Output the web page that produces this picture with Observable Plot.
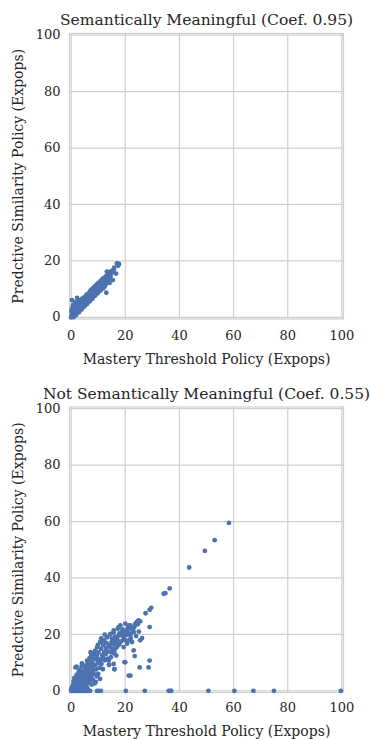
<!DOCTYPE html>
<html>
<head>
<meta charset="utf-8">
<script src="https://cdn.jsdelivr.net/npm/d3@7"></script>
<script src="https://cdn.jsdelivr.net/npm/@observablehq/plot@0.6"></script>
<style>
  html, body { margin: 0; padding: 0; background: #fff; }
  #wrap { position: relative; width: 370px; height: 739px; }
  #wrap > svg { position: absolute; left: 0; }
</style>
</head>
<body>
<div id="wrap"></div>
<script>
// ---------- data ----------
const tickValues = [0, 20, 40, 60, 80, 100];
const titles = ["Semantically Meaningful (Coef. 0.95)", "Not Semantically Meaningful (Coef. 0.55)"];
const xLabel = "Mastery Threshold Policy (Expops)";
const yLabel = "Predctive Similarity Policy (Expops)";

// [mastery threshold, predictive similarity]
const semantic = [
  [0,0],[0.2,0.5],[0.3,1.2],[0.5,0.3],[0.6,1.8],[0.8,0.9],[1,0.4],[1,1.5],[1.1,2.4],[1.3,1],
  [1.5,2],[1.6,0.8],[1.8,2.9],[2,1.6],[2,2.4],[2.2,3.3],[2.4,1.9],[2.5,2.8],[2.7,3.6],[2.9,2.4],
  [3,3.1],[3.1,4.2],[3.3,2.8],[3.5,3.7],[3.6,4.6],[3.8,3.2],[4,4.1],[4,5.1],[4.2,3.6],[4.4,4.7],
  [4.6,5.5],[4.7,4],[4.9,5],[5,6.2],[5.2,4.5],[5.3,5.6],[5.5,6.5],[5.6,5],[5.8,6],[6,7],
  [6.1,5.4],[6.3,6.6],[6.5,7.5],[6.6,5.9],[6.8,7],[7,8],[7.1,6.4],[7.3,7.5],[7.5,8.5],[7.6,6.9],
  [7.8,8],[8,9],[8.1,7.3],[8.3,8.5],[8.5,9.5],[8.7,7.9],[8.9,9],[9,10],[9.2,8.4],[9.4,9.6],
  [9.6,10.5],[9.8,9],[10,10.2],[10.2,11],[10.4,9.4],[10.6,10.7],[10.8,11.5],[11,10],[11.2,11.3],[11.4,12],
  [11.6,10.6],[11.8,11.8],[12,12.6],[12.2,11.2],[12.4,12.3],[12.6,13.1],[12.8,11.8],[13,12.9],[13.2,13.6],[13.4,12.4],
  [13.6,13.4],[13.8,14.1],[14,13],[14.3,14],[14.6,14.6],[14.8,16.3],[15.4,16.6],[13.2,16.2],[16.6,15.5],[15.4,13.2],
  [13,8.7],[16.9,19.1],[17.7,18.9],[17.4,18.3],[0.3,6.1],[2.2,6.9],[1.4,5.5],[0.7,4.3],[0.4,3.2],[1.2,3.8],
  [2.8,5.6],[3.4,6.1],[4.1,6.6],[4.8,7.1],[5.6,7.9],[6.2,8.3],[6.9,9.1],[7.4,9.8],[8.2,10.4],[8.8,11],
  [9.5,11.7],[10.1,12.2],[10.9,12.9],[11.5,13.5],[12.1,14],[12.9,14.6],[13.5,15.1],[14.1,15.6],[15,15.8],[15.8,16.9],
  [0.9,0.1],[1.9,0.9],[2.9,1.8],[3.9,2.8],[4.9,3.8],[5.9,4.7],[6.9,5.7],[7.9,6.6],[8.9,7.7],[9.9,8.6],
  [10.9,9.5],[11.9,10.3],[12.5,11.1],[14.2,12.2],[0.1,2.2],[0.5,2.6],[1.6,3.4],[2.3,4.6],[3.2,5.4],[4.5,5.9],
  [5.1,6.8],[6.4,7.1],[7.2,8.9],[8.4,9.9],[9.1,9.2],[10.5,11.4],[11.3,12.4],[12.7,13.9],[13.9,14.9],[15.9,17.6]
];

const nonSemantic = [
  // on the zero line
  [0,0],[0.3,0],[0.6,0],[1,0],[1.3,0],[1.7,0],[2,0],[2.4,0],[2.8,0],[3.2,0],[3.6,0],[4,0],[4.5,0],[5,0],
  [5.5,0],[6,0],[6.5,0],[7,0],[9.6,0],[10.2,0],[11,0],[20.2,0],[27.2,0],[36,0],[36.6,0],[37,0],
  [50.7,0],[60.3,0],[67.3,0],[74.9,0],[99.6,0],
  // main cloud
  [0,0.5],[0.3,1],[0.5,0.2],[0.6,1.8],[0.8,0.8],[1,2.5],[1.1,1.3],[1.3,0.4],[1.4,3.1],[1.5,1.9],
  [1.7,0.9],[1.8,2.7],[2,3.8],[2,1.4],[2.2,0.5],[2.3,2.2],[2.5,4.4],[2.6,3.1],[2.7,1.2],[2.9,2.1],
  [3,5.3],[3.1,3.7],[3.2,0.8],[3.3,2.6],[3.5,4.5],[3.6,1.6],[3.7,6.2],[3.8,3.3],[4,5.1],[4,2.1],
  [4.2,0.9],[4.3,4],[4.4,6.8],[4.6,2.9],[4.7,5.6],[4.8,1.4],[5,4.4],[5,7.4],[5.2,3.3],[5.3,6.1],
  [5.4,2],[5.6,5.1],[5.7,8.1],[5.8,3.8],[6,6.6],[6,1],[6.2,4.6],[6.3,7.6],[6.4,2.7],[6.6,5.5],
  [6.7,9.2],[6.9,3.6],[7,7],[7.1,10.8],[7.3,5],[7.4,8.4],[7.5,12.6],[7.6,2.2],[7.8,6.3],[7.9,9.8],
  [8,4],[8.2,11.5],[8.3,7.4],[8.4,13.1],[8.6,5.8],[8.8,9],[9,11.2],[9.1,3.2],[9.3,7.6],[9.5,12.4],
  [9.6,15.5],[9.8,9.8],[10,6],[10.1,13.6],[10.3,11],[10.5,8.2],[10.8,17.3],[10.9,11],[11,14.9],[11.2,9.5],
  [11.7,7.7],[11.5,12.6],[11.8,16.2],[12,17.9],[12.2,13.8],[12.5,10.8],[12.8,15.2],[13,17],[13.3,19],[13.5,11.3],
  [13.7,14],[13.9,10.7],[14,9.2],[14.2,16.4],[14.5,20.2],[14.8,13.6],[15,17.5],[15.3,15],[15.7,21.4],[15.7,9.5],
  [15.9,13.4],[16,7.7],[16.3,19.2],[16.6,16.2],[17,18.3],[17.6,22.6],[17.9,20.4],[18.5,17.5],[19,21.8],[19.5,18.4],
  [20,23.8],[20,10.1],[20.4,19.8],[21,22.2],[21.3,23.2],[21.6,20.2],[22,18.6],[22.8,21.5],[23.4,22.6],[24,19.4],
  [24.6,23.6],[25,21],[25.5,24.6],
  [18.2,23.2],[17.2,22],[15.7,20.8],[14.5,20],[15.1,18.5],[16.3,17.9],[17.6,19.6],[18.8,20.8],[19.4,19],[20,17.9],
  [20.7,21.4],[21.3,22.6],[21.9,23.2],[22.5,22],[23.1,20.8],[23.7,23.8],[24.3,24.4],[24.9,25],[21.9,19.6],[21.3,17.9],
  [20.7,16.7],[19.4,15.5],[22.5,17.3],[16.9,15.5],[15.7,16.7],[14.5,15.5],[26.2,18.7],[25.5,17.9],[23.1,14.3],[23.5,12.3],
  [16.7,12.5],[16,7.6],[19.7,10.2],[29,22.6],[29,10.7],[28.6,8.3],[25.3,8.3],[21.3,5.4],[21.9,5.4],
  [2,8.6],[4,9.7],[3.8,8.6],[5.6,8.6],[7.8,12.8],[7.2,13.7],[13.5,11.3],[10.9,11],[11.7,7.7],[14,9.2],
  [1.6,8.3],[3.1,7.4],[5.9,10.7],[8.3,13.1],[10.8,17.3],[12,17.9],[13.3,19],[15.9,13.4],
  [1.2,4.6],[2.1,5.7],[2.8,6.8],[4.9,8.9],[6.1,9.9],[6.8,11.6],[8.9,14.2],[9.9,16.3],[11.1,18.6],[12.4,19.9],
  [0.9,3.4],[1.9,4.9],[3.4,1.2],[4.1,3.6],[5.1,1.7],[6.9,4.4],[7.7,7.9],[8.7,2.6],[9.6,5.1],[10.7,4.2],
  [11.9,11.8],[12.9,13.1],[13.9,15.8],[14.7,11.9],[16.1,14.6],[16.9,17.1],[17.8,16.4],[18.9,19.6],[19.9,21.1],[21.1,20.6],
  // upper tail
  [24.6,24.5],[27.5,27.5],[29,28.7],[29.6,29.4],[34.2,34.4],[34.8,34.6],[36.4,36.3],
  [43.6,43.7],[49.4,49.6],[53,53.4],[58.3,59.5]
];

// ---------- chart ----------
const blue = "#4c72b0";
const grid = "#cfcfcf";
const ink = "#262626";
const font = "DejaVu Serif";

function panel(data, title, opts) {
  const {height, marginTop, marginBottom, tickPad, labelDy} = opts;
  return Plot.plot({
    width: 370,
    height,
    marginLeft: 69,
    marginRight: 27,
    marginTop,
    marginBottom,
    style: {fontFamily: font, color: ink, background: "#fff", overflow: "visible"},
    x: {domain: [-0.6, 100.6]},
    y: {domain: [-0.6, 100.6]},
    marks: [
      Plot.gridX(tickValues, {stroke: grid, strokeOpacity: 1, strokeWidth: 1.2}),
      Plot.gridY(tickValues, {stroke: grid, strokeOpacity: 1, strokeWidth: 1.2}),
      Plot.frame({stroke: grid, strokeWidth: 1.2}),
      Plot.dot(data, {x: d => d[0], y: d => d[1], r: 2.4, fill: blue, stroke: null}),
      Plot.axisX(tickValues, {tickSize: 0, tickPadding: tickPad, label: null, fontSize: 13, fill: ink}),
      Plot.axisY(tickValues, {tickSize: 0, tickPadding: 9, label: null, fontSize: 13, fill: ink}),
      Plot.text([xLabel], {frameAnchor: "bottom", dy: labelDy, lineAnchor: "middle", textAnchor: "middle", fontSize: 14, fill: ink}),
      Plot.text([yLabel], {frameAnchor: "left", dx: -51, rotate: -90, lineAnchor: "middle", textAnchor: "middle", fontSize: 14, fill: ink}),
      Plot.text([title], {frameAnchor: "top", dy: -13, lineAnchor: "middle", textAnchor: "middle", fontSize: 15.5, fill: ink})
    ]
  });
}

const wrap = document.getElementById("wrap");
const top1 = panel(semantic, titles[0], {height: 370, marginTop: 33, marginBottom: 51.5, tickPad: 12, labelDy: 40.5});
top1.style.top = "0px";
wrap.appendChild(top1);
const bot = panel(nonSemantic, titles[1], {height: 369, marginTop: 36.5, marginBottom: 47, tickPad: 10.5, labelDy: 38.7});
bot.style.top = "370px";
wrap.appendChild(bot);
</script>
</body>
</html>
